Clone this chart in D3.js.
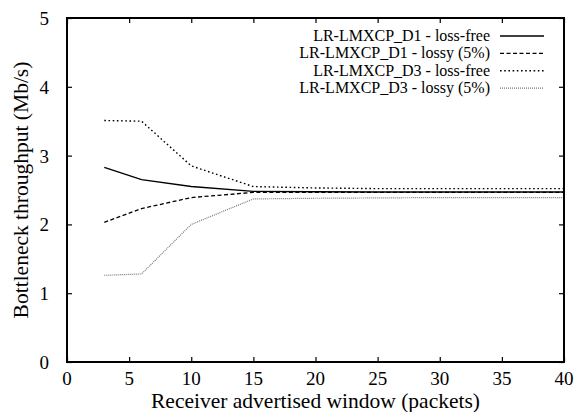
<!DOCTYPE html>
<html>
<head>
<meta charset="utf-8">
<script src="https://cdn.jsdelivr.net/npm/d3@7"></script>
</head>
<body style="margin:0">
<script>
// data
const windows = [3, 6, 10, 15, 20, 25, 30, 35, 40];
const d1LossFree = [2.83, 2.65, 2.55, 2.48, 2.475, 2.47, 2.47, 2.47, 2.47];
const d1Lossy = [2.03, 2.23, 2.39, 2.465, 2.465, 2.465, 2.465, 2.465, 2.465];
const d3LossFree = [3.51, 3.50, 2.85, 2.55, 2.53, 2.52, 2.52, 2.52, 2.52];
const d3Lossy = [1.26, 1.28, 2.0, 2.37, 2.38, 2.385, 2.39, 2.39, 2.39];
const seriesNames = [
  'LR-LMXCP_D1 - loss-free',
  'LR-LMXCP_D1 - lossy (5%)',
  'LR-LMXCP_D3 - loss-free',
  'LR-LMXCP_D3 - lossy (5%)'
];
const xTicks = [0, 5, 10, 15, 20, 25, 30, 35, 40];
const yTicks = [0, 1, 2, 3, 4, 5];

const width = 574;
const height = 412;
const margin = {top: 18, right: 10, bottom: 50, left: 67};
const fontName = '"Liberation Serif"';

const svg = d3.select('body').append('svg')
    .attr('width', width)
    .attr('height', height);

const x = d3.scaleLinear().domain([0, 40]).range([margin.left, width - margin.right]);
const y = d3.scaleLinear().domain([0, 5]).range([height - margin.bottom, margin.top]);

// line styles per series
const styles = [
  {stroke: '#000', width: 1.4, dash: null},
  {stroke: '#000', width: 1.3, dash: '4,2.5'},
  {stroke: '#000', width: 1.4, dash: '1.6,2.6'},
  {stroke: '#777', width: 1.2, dash: '1,1'}
];
const series = [d1LossFree, d1Lossy, d3LossFree, d3Lossy];

const line = d3.line()
    .x((d, i) => x(windows[i]))
    .y(d => y(d));

series.forEach((vals, k) => {
  svg.append('path')
      .datum(vals)
      .attr('d', line)
      .attr('fill', 'none')
      .attr('stroke', styles[k].stroke)
      .attr('stroke-width', styles[k].width)
      .attr('stroke-dasharray', styles[k].dash);
});

// axes: ticks pointing inward on all four sides, labels drawn separately
const tickLen = 5;
const axes = svg.append('g');
axes.append('g')
    .attr('transform', `translate(0,${y(0)})`)
    .call(d3.axisBottom(x).tickValues(xTicks).tickSize(-tickLen).tickFormat(''));
axes.append('g')
    .attr('transform', `translate(0,${y(5)})`)
    .call(d3.axisTop(x).tickValues(xTicks).tickSize(-tickLen).tickFormat(''));
axes.append('g')
    .attr('transform', `translate(${x(0)},0)`)
    .call(d3.axisLeft(y).tickValues(yTicks).tickSize(-tickLen).tickFormat(''));
axes.append('g')
    .attr('transform', `translate(${x(40)},0)`)
    .call(d3.axisRight(y).tickValues(yTicks).tickSize(-tickLen).tickFormat(''));
axes.selectAll('.domain').remove();
axes.selectAll('.tick line').attr('stroke', '#000').attr('stroke-width', 1.2);

svg.selectAll('.xlab')
    .data(xTicks)
    .enter().append('text')
    .attr('class', 'xlab')
    .attr('x', d => x(d))
    .attr('y', 385)
    .attr('text-anchor', 'middle')
    .style('font-family', fontName)
    .attr('font-size', 19)
    .text(d => d);
svg.selectAll('.ylab')
    .data(yTicks)
    .enter().append('text')
    .attr('class', 'ylab')
    .attr('x', 49)
    .attr('y', d => y(d) + 7)
    .attr('text-anchor', 'end')
    .style('font-family', fontName)
    .attr('font-size', 19)
    .text(d => d);

// frame
svg.append('rect')
    .attr('x', x(0))
    .attr('y', y(5))
    .attr('width', x(40) - x(0))
    .attr('height', y(0) - y(5))
    .attr('fill', 'none')
    .attr('stroke', '#000')
    .attr('stroke-width', 2);

// axis titles
svg.append('text')
    .attr('x', (x(0) + x(40)) / 2)
    .attr('y', 408)
    .attr('text-anchor', 'middle')
    .style('font-family', fontName)
    .attr('font-size', 21.5)
    .text('Receiver advertised window (packets)');
svg.append('text')
    .attr('transform', `translate(28,${(y(0) + y(5)) / 2}) rotate(-90)`)
    .attr('text-anchor', 'middle')
    .style('font-family', fontName)
    .attr('font-size', 21.5)
    .text('Bottleneck throughput (Mb/s)');

// legend
const legend = svg.append('g');
seriesNames.forEach((name, k) => {
  const yy = 36 + k * 17.4;
  legend.append('text')
      .attr('x', 490)
      .attr('y', yy + 5)
      .attr('text-anchor', 'end')
      .style('font-family', fontName)
      .attr('font-size', 16)
      .text(name);
  legend.append('line')
      .attr('x1', 500)
      .attr('x2', 544)
      .attr('y1', yy)
      .attr('y2', yy)
      .attr('stroke', styles[k].stroke)
      .attr('stroke-width', styles[k].width)
      .attr('stroke-dasharray', styles[k].dash);
});
</script>
</body>
</html>
